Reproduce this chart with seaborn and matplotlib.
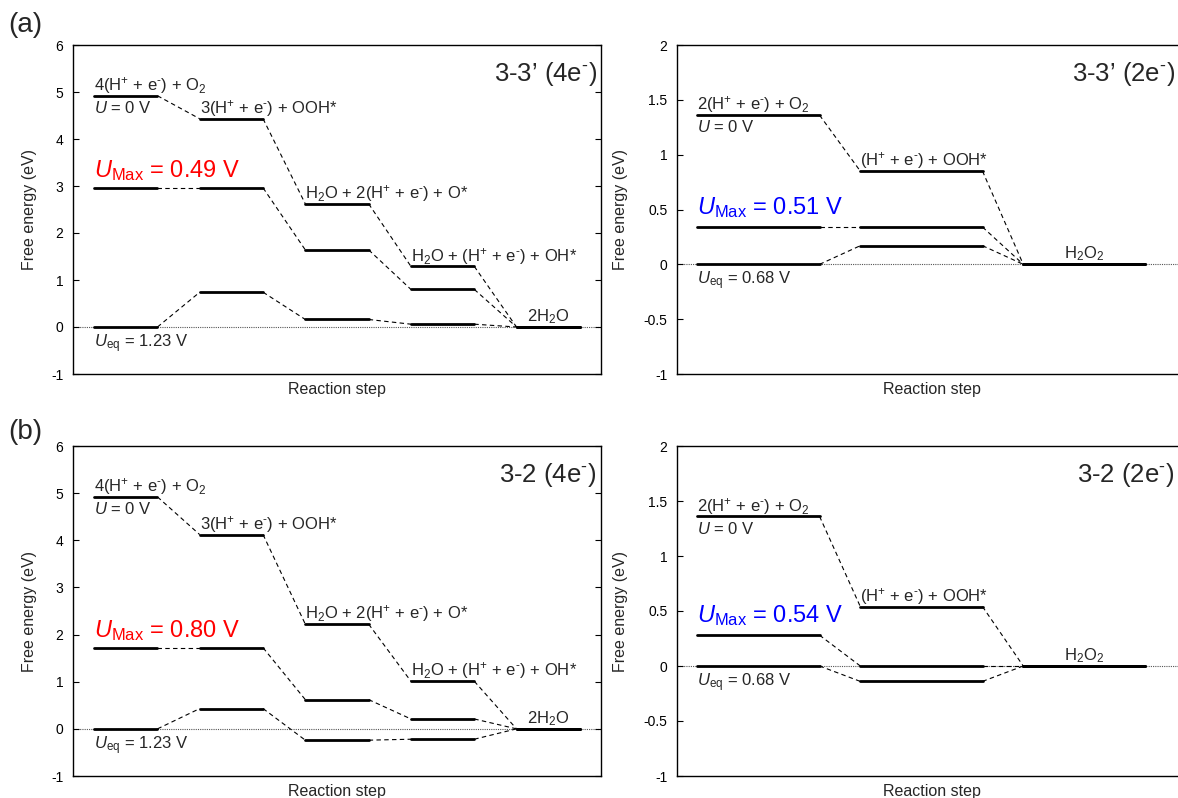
import matplotlib
matplotlib.use("Agg")
import matplotlib.pyplot as plt
import matplotlib.ticker as mticker
import numpy as np
import pandas as pd
import seaborn as sns

# ---------------- data (free energies in eV) ----------------
# 4e- ORR path, steps 1..5 ; 2e- path, steps 1..3
species_4e = [r"4(H$^{+}$ + e$^{\text{-}}$) + O$_2$",
              r"3(H$^{+}$ + e$^{\text{-}}$) + OOH*",
              r"H$_2$O + 2(H$^{+}$ + e$^{\text{-}}$) + O*",
              r"H$_2$O + (H$^{+}$ + e$^{\text{-}}$) + OH*",
              r"2H$_2$O"]
species_2e = [r"2(H$^{+}$ + e$^{\text{-}}$) + O$_2$",
              r"(H$^{+}$ + e$^{\text{-}}$) + OOH*",
              r"H$_2$O$_2$"]

# 3-3' site, 4e-
g33_4e_u0 = [4.92, 4.43, 2.62, 1.29, 0.00]
g33_4e_umax = [2.96, 2.96, 1.64, 0.80, 0.00]
g33_4e_ueq = [0.00, 0.74, 0.16, 0.06, 0.00]
# 3-3' site, 2e-
g33_2e_u0 = [1.36, 0.85, 0.00]
g33_2e_umax = [0.34, 0.34, 0.00]
g33_2e_ueq = [0.00, 0.17, 0.00]
# 3-2 site, 4e-
g32_4e_u0 = [4.92, 4.12, 2.22, 1.01, 0.00]
g32_4e_umax = [1.72, 1.72, 0.62, 0.21, 0.00]
g32_4e_ueq = [0.00, 0.43, -0.24, -0.22, 0.00]
# 3-2 site, 2e-
g32_2e_u0 = [1.36, 0.54, 0.00]
g32_2e_umax = [0.28, 0.00, 0.00]
g32_2e_ueq = [0.00, -0.14, 0.00]

umax_labels = ["0.49", "0.51", "0.80", "0.54"]
ueq_labels = ["1.23", "0.68", "1.23", "0.68"]
titles = [r"3-3’ (4e$^{\text{-}}$)", r"3-3’ (2e$^{\text{-}}$)",
          r"3-2 (4e$^{\text{-}}$)", r"3-2 (2e$^{\text{-}}$)"]
yticks_4e = [-1, 0, 1, 2, 3, 4, 5, 6]
yticks_2e = [-1, -0.5, 0, 0.5, 1, 1.5, 2]

# ---------------- style ----------------
sns.set_theme(style="ticks")
plt.rcParams["font.family"] = ["Liberation Sans", "DejaVu Sans"]
plt.rcParams["mathtext.fontset"] = "custom"
plt.rcParams["mathtext.rm"] = "Liberation Sans"
plt.rcParams["mathtext.it"] = "Liberation Sans:italic"
plt.rcParams["mathtext.bf"] = "Liberation Sans:bold"
plt.rcParams["axes.unicode_minus"] = False

W, H = 1178, 798
fig = plt.figure(figsize=(W / 100, H / 100), dpi=100)


def px_axes(left, top, width, height):
    return fig.add_axes([left / W, 1 - (top + height) / H, width / W, height / H])


def segments(rows, hw):
    lv, lk = [], []
    for r, vals in enumerate(rows):
        for i, g in enumerate(vals):
            x = i + 1
            lv += [dict(x=x - hw, G=g, seg=f"{r}-{i}"), dict(x=x + hw, G=g, seg=f"{r}-{i}")]
            if i + 1 < len(vals):
                lk += [dict(x=x + hw, G=g, seg=f"{r}-{i}"),
                       dict(x=x + 1 - hw, G=vals[i + 1], seg=f"{r}-{i}")]
    return pd.DataFrame(lv), pd.DataFrame(lk)


def draw_panel(ax, rows, species, hw, xlim, yticks, umax, ueq, title, ucolor,
               title_x, umax_off, ylabel_x):
    u0, um, ue = rows
    lv, lk = segments(rows, hw)
    ax.axhline(0, color="#555555", lw=0.8, ls=(0, (1, 1)), zorder=0.5)
    sns.lineplot(data=lk, x="x", y="G", units="seg", estimator=None, sort=False,
                 color="black", lw=0.8, ax=ax, legend=False, zorder=2)
    for ln in ax.get_lines()[1:]:
        ln.set_linestyle((0, (4, 3)))
    sns.lineplot(data=lv, x="x", y="G", units="seg", estimator=None, sort=False,
                 color="black", lw=2.0, ax=ax, legend=False, zorder=3)

    ax.set_xlim(*xlim)
    ax.set_ylim(yticks[0], yticks[-1])
    ax.set_yticks(yticks)
    ax.yaxis.set_major_formatter(mticker.FuncFormatter(lambda v, p: f"{v:g}"))
    ax.set_xticks([])
    ax.tick_params(axis="y", direction="in", left=True, right=True, length=4,
                   width=0.8, labelsize=10, pad=7, colors="black")
    ax.tick_params(axis="x", length=0)
    for s in ax.spines.values():
        s.set_linewidth(1.0)
        s.set_color("black")
    ax.set_xlabel("Reaction step", fontsize=11.5, labelpad=6)
    ax.set_ylabel("Free energy (eV)", fontsize=11.5)
    ax.yaxis.set_label_coords(ylabel_x, 0.5)

    n = len(u0)
    for i, (lab, g) in enumerate(zip(species, u0)):
        x = i + 1
        if i == n - 1:
            ax.annotate(lab, xy=(x, g), xytext=(0, 4), textcoords="offset points",
                        ha="center", va="baseline", fontsize=12)
        else:
            ax.annotate(lab, xy=(x - hw, g), xytext=(0, 4), textcoords="offset points",
                        ha="left", va="baseline", fontsize=12)
    ax.annotate(r"$U$ = 0 V", xy=(1 - hw, u0[0]), xytext=(0, -3),
                textcoords="offset points", ha="left", va="top", fontsize=12)
    ax.annotate(r"$U_{\mathrm{Max}}$ = " + umax + " V", xy=(1 - hw, um[0]),
                xytext=(0, umax_off), textcoords="offset points", ha="left",
                va="baseline", fontsize=17, color=ucolor)
    ax.annotate(r"$U_{\mathrm{eq}}$ = " + ueq + " V", xy=(1 - hw, ue[0]),
                xytext=(0, -4), textcoords="offset points", ha="left", va="top",
                fontsize=12)
    ax.text(title_x, 0.913, title, transform=ax.transAxes, ha="right", va="center",
            fontsize=18.5)


ax_a1 = px_axes(73, 45, 528, 329)
ax_a2 = px_axes(677, 45, 510, 329)
ax_b1 = px_axes(73, 446, 528, 330)
ax_b2 = px_axes(677, 446, 510, 330)

draw_panel(ax_a1, [g33_4e_u0, g33_4e_umax, g33_4e_ueq], species_4e, 0.30, (0.5, 5.5),
           yticks_4e, umax_labels[0], ueq_labels[0], titles[0], "#ff0000", 0.992, 7.5, -0.068)
draw_panel(ax_a2, [g33_2e_u0, g33_2e_umax, g33_2e_ueq], species_2e, 0.375, (0.5, 3.63),
           yticks_2e, umax_labels[1], ueq_labels[1], titles[1], "#0000ff", 0.976, 9.5, -0.096)
draw_panel(ax_b1, [g32_4e_u0, g32_4e_umax, g32_4e_ueq], species_4e, 0.30, (0.5, 5.5),
           yticks_4e, umax_labels[2], ueq_labels[2], titles[2], "#ff0000", 0.992, 7.5, -0.068)
draw_panel(ax_b2, [g32_2e_u0, g32_2e_umax, g32_2e_ueq], species_2e, 0.375, (0.5, 3.63),
           yticks_2e, umax_labels[3], ueq_labels[3], titles[3], "#0000ff", 0.976, 9.5, -0.096)

fig.text(8 / W, 1 - 25 / H, "(a)", fontsize=20, ha="left", va="center")
fig.text(8 / W, 1 - 432 / H, "(b)", fontsize=20, ha="left", va="center")

fig.savefig("out.png", dpi=100, facecolor="white")
